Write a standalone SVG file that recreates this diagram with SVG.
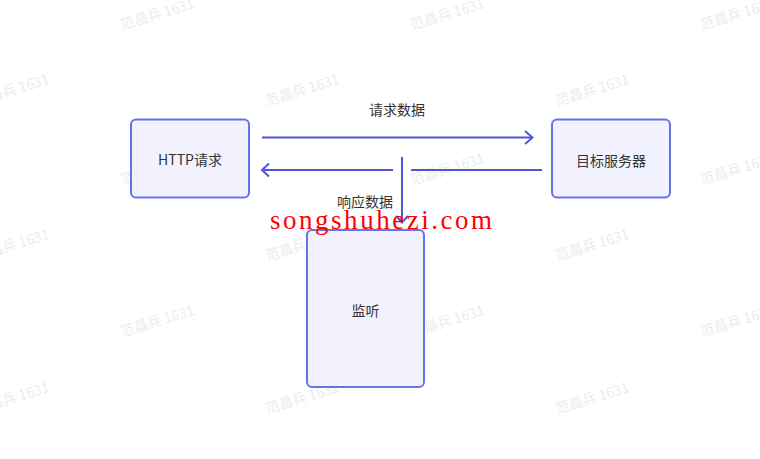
<svg xmlns="http://www.w3.org/2000/svg" width="760" height="459" viewBox="0 0 760 459">
<style>
.node rect{fill:#f1f2fd;stroke:#6a71e8;stroke-width:2}
.lbl{font-family:"Noto Sans CJK SC","Noto Sans",sans-serif;font-size:14px;fill:#333;text-anchor:middle;dominant-baseline:central}
.edge{fill:none;stroke:#4f56dc;stroke-width:2}
.wm{font-family:"Noto Sans CJK SC","Noto Sans",sans-serif;font-size:14px;fill:#ececec;text-anchor:middle;dominant-baseline:central}
</style>
<rect width="760" height="459" fill="#fff"/>
<g id="watermarks">
<text class="wm" transform="translate(157,13) rotate(-17)">范昌兵 1631</text>
<text class="wm" transform="translate(447,13) rotate(-17)">范昌兵 1631</text>
<text class="wm" transform="translate(737,13) rotate(-17)">范昌兵 1631</text>
<text class="wm" transform="translate(12,89) rotate(-17)">范昌兵 1631</text>
<text class="wm" transform="translate(302,89) rotate(-17)">范昌兵 1631</text>
<text class="wm" transform="translate(592,89) rotate(-17)">范昌兵 1631</text>
<text class="wm" transform="translate(157,168) rotate(-17)">范昌兵 1631</text>
<text class="wm" transform="translate(447,168) rotate(-17)">范昌兵 1631</text>
<text class="wm" transform="translate(737,168) rotate(-17)">范昌兵 1631</text>
<text class="wm" transform="translate(12,244) rotate(-17)">范昌兵 1631</text>
<text class="wm" transform="translate(302,244) rotate(-17)">范昌兵 1631</text>
<text class="wm" transform="translate(592,244) rotate(-17)">范昌兵 1631</text>
<text class="wm" transform="translate(157,320) rotate(-17)">范昌兵 1631</text>
<text class="wm" transform="translate(447,320) rotate(-17)">范昌兵 1631</text>
<text class="wm" transform="translate(737,320) rotate(-17)">范昌兵 1631</text>
<text class="wm" transform="translate(12,397) rotate(-17)">范昌兵 1631</text>
<text class="wm" transform="translate(302,397) rotate(-17)">范昌兵 1631</text>
<text class="wm" transform="translate(592,397) rotate(-17)">范昌兵 1631</text>
</g>
<g id="connectors">
<path class="edge" d="M262 137.5H532"/>
<path class="edge" d="M525 131L532.5 137.5L525 144"/>
<path class="edge" d="M542 170H411M393 170H263"/>
<path class="edge" d="M269 163.5L262 170L269 176.5"/>
<path class="edge" d="M402 157V222"/>
<path class="edge" d="M396 216L402 222.5L408 216"/>
<text class="lbl" x="397" y="109">请求数据</text>
<text class="lbl" x="365" y="201">响应数据</text>
</g>
<g id="node-http" class="node">
<rect x="131" y="119.5" width="118" height="78" rx="5"/>
<text class="lbl" x="190" y="159">HTTP请求</text>
</g>
<g id="node-server" class="node">
<rect x="552" y="119.5" width="118" height="78" rx="5"/>
<text class="lbl" x="611" y="159.5">目标服务器</text>
</g>
<g id="node-listen" class="node">
<rect x="307" y="230" width="117" height="157" rx="5"/>
<text class="lbl" x="365.5" y="310">监听</text>
</g>
<text x="270" y="229" font-family="'Liberation Serif',serif" font-size="27" fill="#ff0000" textLength="222" lengthAdjust="spacing">songshuhezi.com</text>
</svg>
